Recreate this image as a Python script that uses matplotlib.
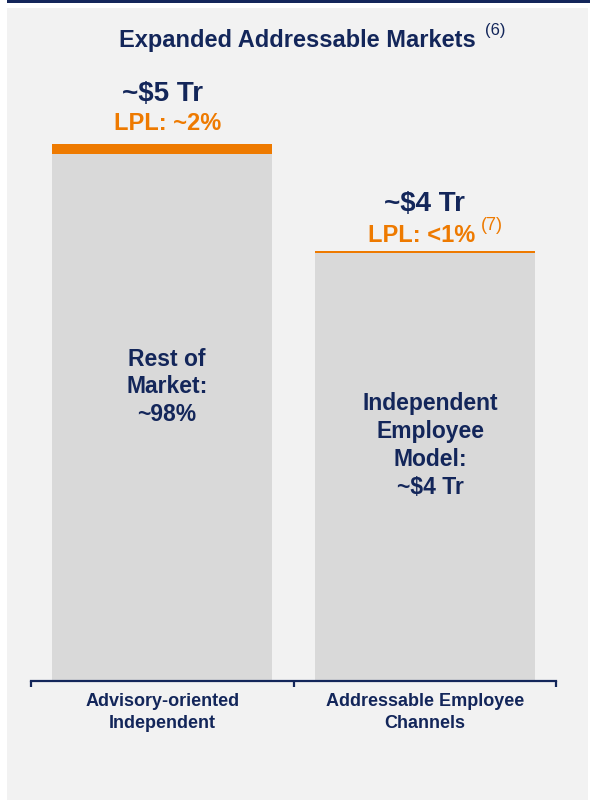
import matplotlib
matplotlib.use("Agg")
import matplotlib.pyplot as plt
from matplotlib.patches import Rectangle

plt.rcParams['font.family'] = ['Liberation Sans', 'DejaVu Sans']

# data
categories = ["Advisory-oriented\nIndependent", "Addressable Employee\nChannels"]
totals = [5.0, 4.0]              # market size, $ trillions
lpl_share = [0.02, 0.005]        # LPL share of each market
total_labels = ["~$5 Tr", "~$4 Tr"]
lpl_labels = ["LPL: ~2%", "LPL: <1%"]
inner_labels = ["Rest of\nMarket:\n~98%", "Independent\nEmployee\nModel:\n~$4 Tr"]

NAVY = "#13265a"
ORANGE = "#ee7a00"
BAR_GRAY = "#d9d9d9"
PANEL = "#f2f2f2"

fig = plt.figure(figsize=(6.01, 8), dpi=100)
fig.patch.set_facecolor("white")

# panel background and top rule
fig.add_artist(Rectangle((7 / 601, 0), 581 / 601, 792 / 800, transform=fig.transFigure,
                         facecolor=PANEL, edgecolor="none", zorder=0))
fig.add_artist(Rectangle((7 / 601, 797 / 800), 583 / 601, 3 / 800, transform=fig.transFigure,
                         facecolor=NAVY, edgecolor="none", zorder=0))

ax = fig.add_axes([31 / 601, 119 / 800, 525 / 601, 645 / 800])
ax.set_facecolor("none")
ax.set_xlim(-0.5, 1.5)
ax.set_ylim(0, 6)

x = list(range(len(totals)))
lpl_vals = [t * s for t, s in zip(totals, lpl_share)]
rest_vals = [t - v for t, v in zip(totals, lpl_vals)]

ax.bar(x, rest_vals, width=0.838, color=BAR_GRAY, zorder=2)
ax.bar(x, lpl_vals, bottom=rest_vals, width=0.838, color=ORANGE, zorder=2)

for sp in ["left", "right", "top"]:
    ax.spines[sp].set_visible(False)
ax.spines["bottom"].set_color(NAVY)
ax.spines["bottom"].set_linewidth(1.6)
ax.set_yticks([])
ax.set_xticks([-0.5, 0.5, 1.5])
ax.set_xticklabels([])
ax.tick_params(axis="x", direction="out", length=4, width=1.6, color=NAVY)

tot_off = [36, 34]
lpl_off = [(4, 14.4), (-2.5, 10.8)]
inner_dx = [3.5, 4]
for i in x:
    ax.annotate(total_labels[i], xy=(i, totals[i]), xytext=(0, tot_off[i]),
                textcoords="offset points", ha="center", va="center",
                fontsize=20, fontweight="bold", color=NAVY)
    ax.annotate(lpl_labels[i], xy=(i, totals[i]), xytext=lpl_off[i],
                textcoords="offset points", ha="center", va="center",
                fontsize=17, fontweight="bold", color=ORANGE)
    ax.annotate(inner_labels[i], xy=(i, totals[i] * 0.547), xytext=(inner_dx[i], 0),
                textcoords="offset points", ha="center", va="center",
                fontsize=16.5, fontweight="bold", color=NAVY, linespacing=1.27)
    ax.annotate(categories[i], xy=(i, 0), xytext=(0, -22.7),
                textcoords="offset points", ha="center", va="center",
                fontsize=13, fontweight="bold", color=NAVY, linespacing=1.35,
                annotation_clip=False)

# footnote (7)
ax.annotate("(7)", xy=(1, totals[1]), xytext=(48, 18.5), textcoords="offset points",
            ha="center", va="center", fontsize=13, color=ORANGE)

# title
fig.text(297 / 601, 1 - 40 / 800, "Expanded Addressable Markets", ha="center", va="center",
         fontsize=17, fontweight="bold", color=NAVY)
fig.text(495 / 601, 1 - 31 / 800, "(6)", ha="center", va="center", fontsize=12, color=NAVY)

fig.savefig("out.png", dpi=100)
